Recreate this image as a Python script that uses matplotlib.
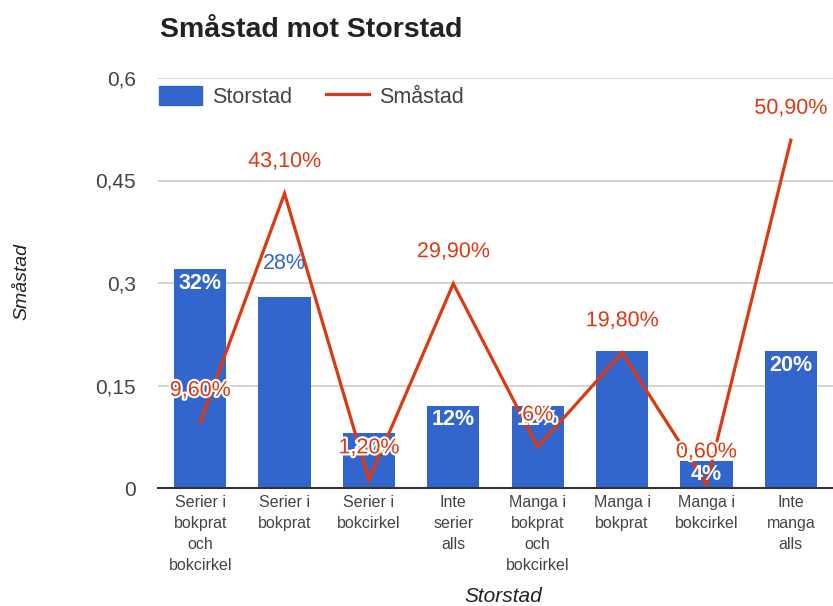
import matplotlib
matplotlib.use("Agg")
import matplotlib.pyplot as plt
import matplotlib.patheffects as pe
from matplotlib.patches import Patch
from matplotlib.lines import Line2D

# data
categories = ["Serier i\nbokprat\noch\nbokcirkel", "Serier i\nbokprat", "Serier i\nbokcirkel",
              "Inte\nserier\nalls", "Manga i\nbokprat\noch\nbokcirkel", "Manga i\nbokprat",
              "Manga i\nbokcirkel", "Inte\nmanga\nalls"]
storstad = [0.32, 0.28, 0.08, 0.12, 0.12, 0.20, 0.04, 0.20]
smastad = [0.096, 0.431, 0.012, 0.299, 0.06, 0.198, 0.006, 0.509]
storstad_labels = ["32%", "28%", "8%", "12%", "12%", "20%", "4%", "20%"]
smastad_labels = ["9,60%", "43,10%", "1,20%", "29,90%", "6%", "19,80%", "0,60%", "50,90%"]
y_ticks = [0, 0.15, 0.3, 0.45, 0.6]
y_tick_labels = ["0", "0,15", "0,3", "0,45", "0,6"]

# google put the 28% label above its bar; the 20% on "Manga i bokprat"
# is covered completely by the 19,80% label, so it is not drawn
LABEL_OUTSIDE = [1]
LABEL_HIDDEN = [5]

# style constants
W, H = 833, 606
BLUE = "#3366cc"
RED = "#dc3912"
GRID = "#cccccc"
TICK_COLOR = "#444444"
FONT = "Liberation Sans"
LABEL_SIZE = 15.5

plt.rcParams["font.family"] = [FONT, "DejaVu Sans"]

fig = plt.figure(figsize=(W / 100, H / 100), dpi=100)
ax = fig.add_axes([158 / W, (H - 488) / H, (833 - 158) / W, (488 - 78) / H])

x = list(range(len(categories)))
ax.bar(x, storstad, width=0.62, color=BLUE, zorder=2)
ax.plot(x, smastad, color=RED, linewidth=2.3, zorder=3, solid_joinstyle="miter")

ax.set_xlim(-0.5, len(categories) - 0.5)
ax.set_ylim(0, 0.6)
ax.set_yticks(y_ticks)
ax.set_yticklabels(y_tick_labels, fontsize=15, color=TICK_COLOR)
ax.set_xticks(x)
ax.set_xticklabels(categories, fontsize=11.5, color=TICK_COLOR, linespacing=1.5, va="top")
ax.tick_params(axis="both", length=0)
ax.tick_params(axis="y", pad=16)
ax.tick_params(axis="x", pad=5)

ax.grid(axis="y", color=GRID, linewidth=1.2, zorder=0)
ax.set_axisbelow(True)
for side in ["top", "right", "left"]:
    ax.spines[side].set_visible(False)
ax.spines["bottom"].set_color("#333333")
ax.spines["bottom"].set_linewidth(1.5)
ax.spines["bottom"].set_zorder(4)

halo = [pe.withStroke(linewidth=3, foreground="white")]

# bar labels: white inside the bar top, blue above it for the 28% bar
for i, (v, lab) in enumerate(zip(storstad, storstad_labels)):
    if i in LABEL_HIDDEN:
        continue
    if i in LABEL_OUTSIDE:
        ax.annotate(lab, (i, v), xytext=(0, 24), textcoords="offset points",
                    ha="center", va="center", fontsize=LABEL_SIZE, color=BLUE, zorder=5)
    else:
        ax.annotate(lab, (i, v), xytext=(0, -10), textcoords="offset points",
                    ha="center", va="center", fontsize=LABEL_SIZE, color="white",
                    fontweight="bold", zorder=4)

# line labels with white halo, drawn over the bar labels
for i, (v, lab) in enumerate(zip(smastad, smastad_labels)):
    ax.annotate(lab, (i, v), xytext=(0, 23), textcoords="offset points",
                ha="center", va="center", fontsize=LABEL_SIZE, color=RED,
                path_effects=halo, zorder=6)

fig.text(160 / W, 1 - 30 / H, "Småstad mot Storstad", fontsize=20.5, fontweight="bold",
         color="#222222", ha="left", va="center")
fig.text(22 / W, 1 - 282 / H, "Småstad", rotation=90, fontsize=14, style="italic",
         color="#222222", ha="center", va="center")
fig.text(503 / W, 1 - 597 / H, "Storstad", fontsize=15, style="italic",
         color="#222222", ha="center", va="center")

handles = [Patch(facecolor=BLUE, edgecolor=BLUE), Line2D([0], [0], color=RED, linewidth=2.3)]
ax.legend(handles, ["Storstad", "Småstad"], loc="upper left", ncol=2, frameon=False,
          bbox_to_anchor=(159 / W, 1 - 86 / H), bbox_transform=fig.transFigure,
          fontsize=15.5, handlelength=2.0, handleheight=0.95, handletextpad=0.45,
          columnspacing=1.6, borderaxespad=0, borderpad=0, labelcolor=TICK_COLOR)

fig.savefig("out.png", dpi=100)
